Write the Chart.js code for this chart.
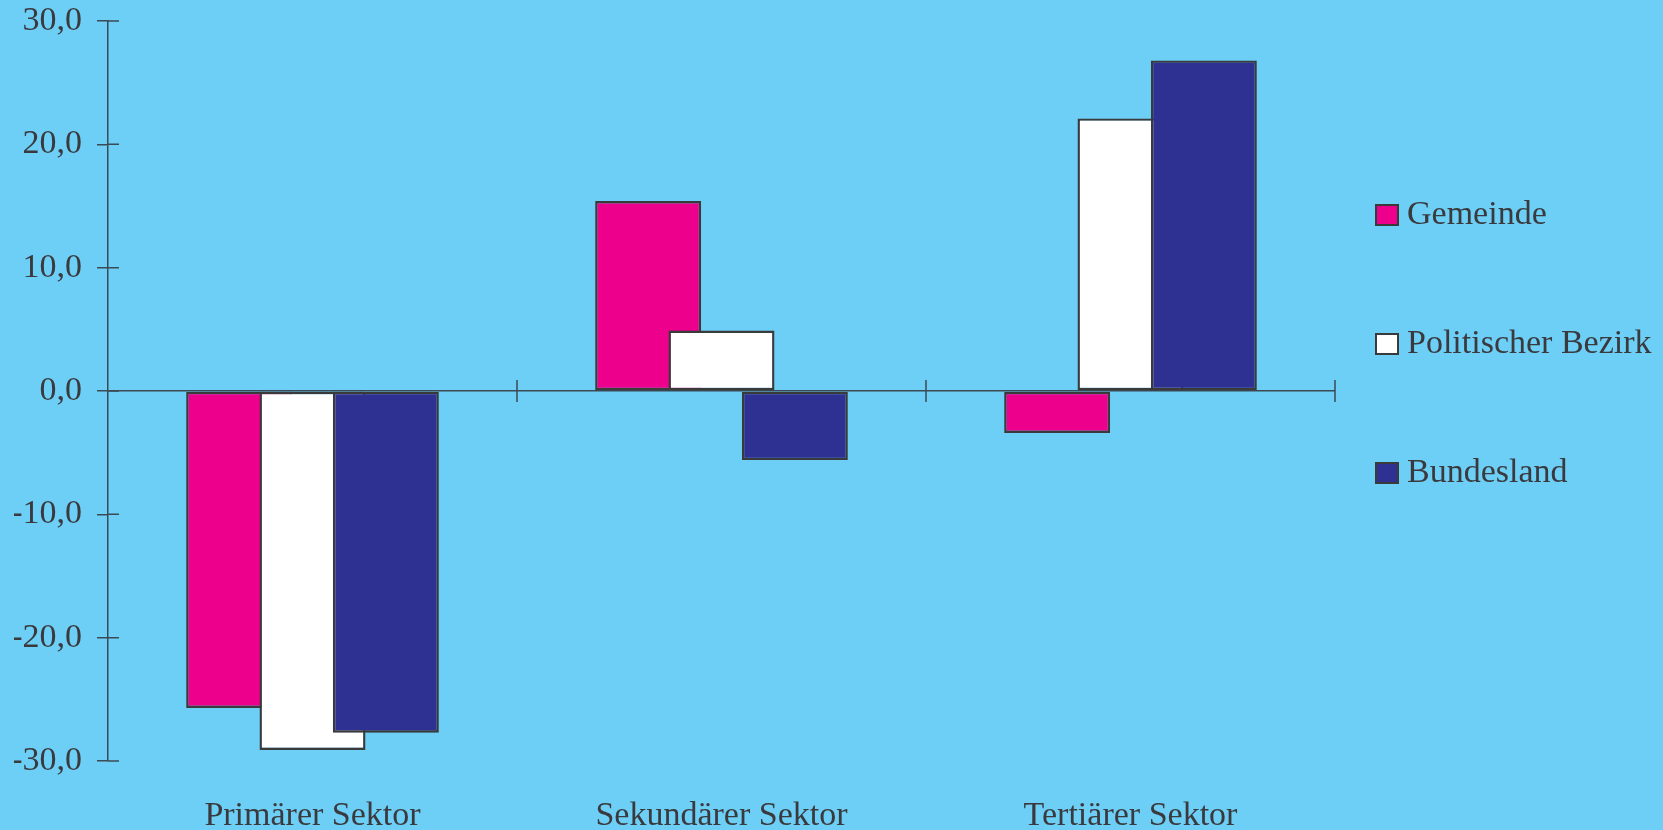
<html>
<head>
  <meta charset="utf-8">
  <script src="https://cdn.jsdelivr.net/npm/chart.js@4.4.1/dist/chart.umd.min.js"></script>
  <style>
    html, body { margin: 0; padding: 0; background: #6dcff6; overflow: hidden; }
    #wrap { width: 1663px; height: 830px; position: relative; }
  </style>
</head>
<body>

<div id="wrap">
  <canvas id="sektoren" width="1663" height="830"></canvas>
</div>

<script>
// data
var categories = ['Primärer Sektor', 'Sekundärer Sektor', 'Tertiärer Sektor'];
var seriesNames = ['Gemeinde', 'Politischer Bezirk', 'Bundesland'];
var gemeinde = [-25.7, 15.4, -3.4];
var bezirk = [-29.1, 4.9, 22.1];
var bundesland = [-27.7, -5.6, 26.8];
var yTicks = [-30, -20, -10, 0, 10, 20, 30];

var seriesColors = ['#ec008c', '#ffffff', '#2e3192'];
var textColor = '#3a3a3e';
var axisColor = '#3c4a55';
var serif = "'Liberation Serif', 'Times New Roman', serif";

// ticks crossing the axes, and datasets drawn first to last so later bars lie on top
var axesAndOrder = {
  id: 'axesAndOrder',
  beforeDatasetsDraw: function(chart) {
    var ctx = chart.ctx, x = chart.scales.x, y = chart.scales.y;
    var zero = y.getPixelForValue(0);
    ctx.save();
    ctx.strokeStyle = axisColor;
    ctx.lineWidth = 1.5;
    ctx.beginPath();
    yTicks.forEach(function(v) {
      var py = y.getPixelForValue(v);
      ctx.moveTo(y.right, py);
      ctx.lineTo(y.right + 11, py);
    });
    for (var i = 1; i <= categories.length; i++) {
      var px = x.getPixelForValue(i - 0.5);
      ctx.moveTo(px, zero - 11);
      ctx.lineTo(px, zero + 11);
    }
    ctx.stroke();
    ctx.restore();

    chart.getSortedVisibleDatasetMetas().forEach(function(meta) {
      meta.controller.draw();
    });
    return false;
  }
};

// legend on the right, one entry per series
var sideLegend = {
  id: 'sideLegend',
  afterDraw: function(chart) {
    var ctx = chart.ctx, area = chart.chartArea;
    ctx.save();
    ctx.font = '34px ' + serif;
    ctx.textBaseline = 'middle';
    ctx.textAlign = 'left';
    chart.data.datasets.forEach(function(ds, i) {
      var left = area.right + 41;
      var cy = area.top + 194 + i * 129;
      ctx.fillStyle = ds.backgroundColor;
      ctx.fillRect(left, cy - 10, 22, 20);
      ctx.strokeStyle = ds.borderColor;
      ctx.lineWidth = 2;
      ctx.strokeRect(left, cy - 10, 22, 20);
      ctx.fillStyle = textColor;
      ctx.fillText(ds.label, left + 31, cy);
    });
    ctx.restore();
  }
};

var values = [gemeinde, bezirk, bundesland];

var chart = new Chart(document.getElementById('sektoren'), {
  type: 'bar',
  data: {
    labels: categories,
    datasets: seriesNames.map(function(name, i) {
      return {
        label: name,
        data: values[i],
        backgroundColor: seriesColors[i],
        borderColor: '#3a3a3a',
        borderWidth: 2.4,
        borderSkipped: false,
        categoryPercentage: 0.538,
        barPercentage: 1.445
      };
    })
  },
  options: {
    responsive: false,
    animation: false,
    layout: { padding: { left: 14, right: 328, top: 21, bottom: 0 } },
    plugins: {
      legend: { display: false },
      tooltip: { enabled: false }
    },
    scales: {
      x: {
        grid: { display: false },
        border: { display: false },
        afterFit: function(scale) { scale.height = 69; },
        ticks: {
          color: textColor,
          padding: 30,
          font: { family: serif, size: 34, lineHeight: 1 }
        }
      },
      y: {
        min: -30,
        max: 30,
        afterBuildTicks: function(scale) {
          scale.ticks = yTicks.map(function(v) { return { value: v }; });
        },
        afterFit: function(scale) {
          scale.width = 94;
          scale.paddingTop = 0;
          scale.paddingBottom = 0;
        },
        grid: {
          drawOnChartArea: true,
          drawTicks: true,
          tickLength: 11,
          lineWidth: 1.5,
          tickColor: axisColor,
          color: function(c) { return c.tick && c.tick.value === 0 ? axisColor : 'rgba(0,0,0,0)'; }
        },
        border: { display: true, color: axisColor, width: 1.5 },
        ticks: {
          color: textColor,
          padding: 15,
          font: { family: serif, size: 34 },
          callback: function(v) { return v.toFixed(1).replace('.', ','); }
        }
      }
    }
  },
  plugins: [axesAndOrder, sideLegend]
});
</script>
</body>
</html>
